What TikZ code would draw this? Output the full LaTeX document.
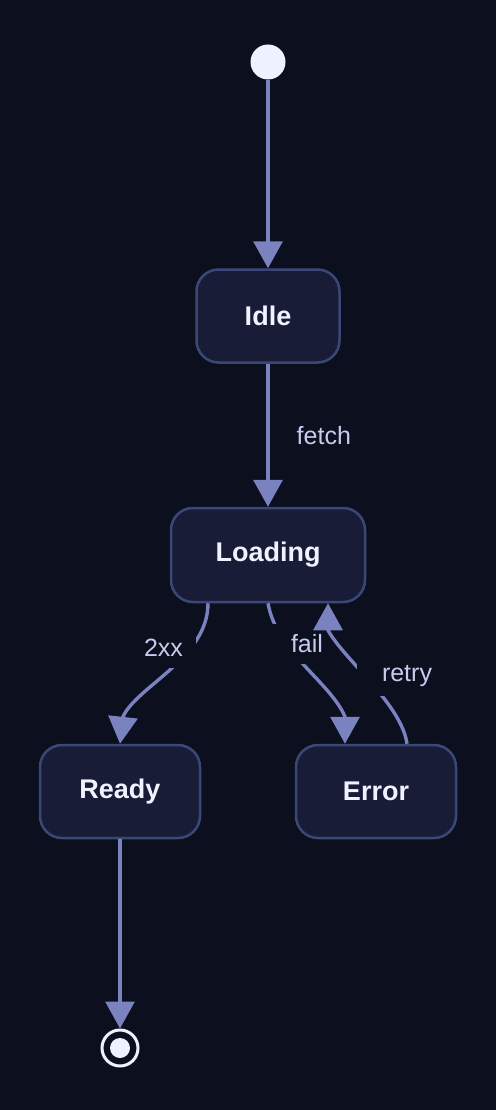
\documentclass[tikz,border=0pt]{standalone}
\usepackage{fontspec}
\setmainfont{Liberation Sans}
\usepackage{tikz}
\usetikzlibrary{
  arrows.meta,
  positioning
}
\definecolor{smBg}{HTML}{0B0F1E}
\definecolor{smFill}{HTML}{181C36}
\definecolor{smBorder}{HTML}{3A4878}
\definecolor{smEdge}{HTML}{7A83C0}
\definecolor{smText}{HTML}{F0F2FF}
\definecolor{smLabel}{HTML}{C7CCEE}
\definecolor{smDot}{HTML}{EEF2FF}
\tikzset{
  smstate/.style={
    draw=smBorder, fill=smFill, line width=2.5pt, rounded corners=22pt,
    minimum height=93pt, inner sep=0pt, text=smText,
    font=\fontsize{27}{27}\selectfont\bfseries
  },
  startdot/.style={circle, fill=smDot, minimum size=35pt, inner sep=0pt},
  finaldot/.style={
    circle, draw=smDot, line width=3pt, minimum size=36pt, inner sep=0pt,
    path picture={\fill[smDot] (path picture bounding box.center) circle (10pt);}
  },
  transition/.style={-{Triangle[length=27pt, width=29pt]}, line width=3.4pt, smEdge},
  trlabel/.style={font=\fontsize{25}{25}\selectfont, text=smLabel, inner sep=0pt},
  masklabel/.style={trlabel, fill=smBg, minimum height=40pt, inner xsep=4pt, text width=49pt}
}
\begin{document}
\begin{tikzpicture}[x=1pt, y=-1pt]
  \fill[smBg] (0,0) rectangle (496,1110);
  \useasboundingbox (0,0) rectangle (496,1110);

  \node[startdot] (start) at (268,62) {};
  \node[smstate, minimum width=143pt] (idle) at (268,316) {Idle};
  \node[smstate, minimum width=194pt, minimum height=94pt] (loading) at (268,555) {Loading};
  \node[smstate, minimum width=160pt] (ready) at (120,791.5) {Ready};
  \node[smstate, minimum width=160pt] (error) at (376,791.5) {Error};
  \node[finaldot] (stop) at (120,1048) {};

  \draw[transition] (start) -- (idle);
  \draw[transition] (idle) -- node[trlabel, right=27pt] (lfetch) {fetch} (loading);

  % labels mask the curves they sit on
  \draw[transition] ([xshift=-60pt]loading.south)
    to[out=-90, in=66, out distance=55pt, in distance=33pt] ([xshift=3pt, yshift=27pt]ready.north)
    -- (ready.north);
  \node[masklabel, inner xsep=5pt, text width=46.5pt, align=left] (l2xx) at (167.25,648) {2xx};
  \draw[transition] (loading.south)
    to[out=-80, in=113, out distance=50pt, in distance=38pt] ([xshift=-31pt, yshift=27pt]error.north)
    -- ([xshift=-31pt]error.north);
  \node[masklabel, align=right] (lfail) at (298.5,644) {fail};
  \draw[transition] ([xshift=31pt]error.north)
    to[out=98, in=-61, out distance=40pt, in distance=34pt] ([xshift=60pt, yshift=-27pt]loading.south)
    -- ([xshift=60pt]loading.south);
  \node[masklabel, text width=71pt, align=right] (lretry) at (396.5,676) {retry};

  \draw[transition] (ready) -- (stop);
\end{tikzpicture}
\end{document}
